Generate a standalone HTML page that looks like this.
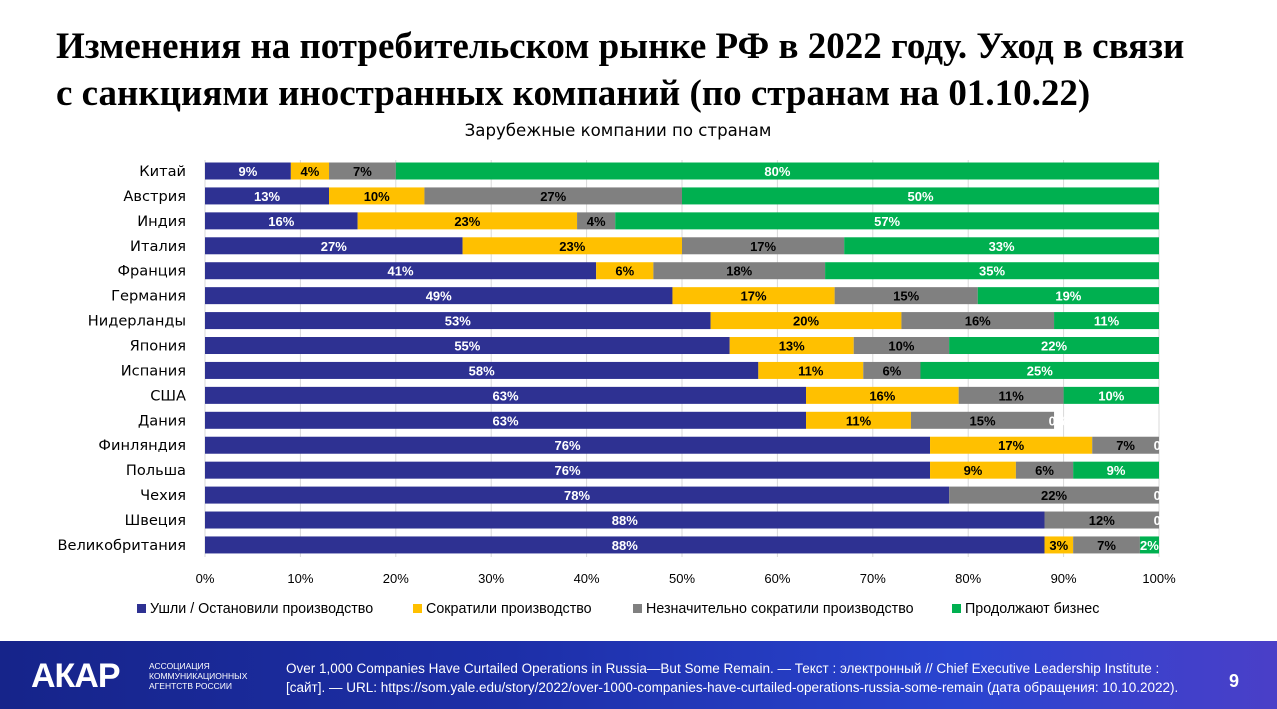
<!DOCTYPE html>
<html><head><meta charset="utf-8"><style>
body{margin:0;width:1277px;height:709px;overflow:hidden;background:#fff;font-family:"Liberation Sans","Noto Sans CJK SC",sans-serif;position:relative}
.t{position:absolute;left:56px;font-family:"Liberation Serif","Noto Serif CJK SC",serif;font-weight:bold;font-size:37px;color:#000;white-space:nowrap}
#foot{position:absolute;left:0;top:641px;width:1277px;height:68px;background:linear-gradient(90deg,#16248a 0%,#1d2fa8 40%,#2a44d0 75%,#4a3fc8 100%)}
</style></head><body>
<div class="t" style="top:25px">Изменения на потребительском рынке РФ в 2022 году. Уход в связи</div>
<div class="t" style="top:72px">с санкциями иностранных компаний (по странам на 01.10.22)</div>
<svg id="ch" width="1277" height="640" style="position:absolute;left:0;top:0"></svg>
<div id="foot">
<div style="position:absolute;left:31px;top:16px;color:#fff;font-weight:bold;font-size:34px;letter-spacing:-1px">АКАР</div>
<div style="position:absolute;left:149px;top:20px;color:#fff;font-size:8.5px;line-height:10px">АССОЦИАЦИЯ<br>КОММУНИКАЦИОННЫХ<br>АГЕНТСТВ РОССИИ</div>
<div style="position:absolute;left:286px;top:18px;color:#fff;font-size:13.5px;line-height:19px;white-space:nowrap">Over 1,000 Companies Have Curtailed Operations in Russia—But Some Remain. — Текст : электронный // Chief Executive Leadership Institute :<br>[сайт]. — URL: https://som.yale.edu/story/2022/over-1000-companies-have-curtailed-operations-russia-some-remain (дата обращения: 10.10.2022).</div>
<div style="position:absolute;left:1229px;top:30px;color:#fff;font-weight:bold;font-size:18px">9</div>
</div>
<script>
const countries=["Китай","Австрия","Индия","Италия","Франция","Германия","Нидерланды","Япония","Испания","США","Дания","Финляндия","Польша","Чехия","Швеция","Великобритания"];
const stopped=[9,13,16,27,41,49,53,55,58,63,63,76,76,78,88,88];
const reduced=[4,10,23,23,6,17,20,13,11,16,11,17,9,0,0,3];
const slightly=[7,27,4,17,18,15,16,10,6,11,15,7,6,22,12,7];
const continuing=[80,50,57,33,35,19,11,22,25,10,0,0,9,0,0,2];
const seriesNames=["Ушли / Остановили производство","Сократили производство","Незначительно сократили производство","Продолжают бизнес"];
const ticks=[0,10,20,30,40,50,60,70,80,90,100];
const colors=["#2e3192","#ffc000","#808080","#00b050"];
const labelCol=["#fff","#000","#000","#fff"];
const series=[stopped,reduced,slightly,continuing];
const svg=document.getElementById('ch');const NS="http://www.w3.org/2000/svg";
const x0=205,x1=1159,yTop=171,step=24.93,bh=17;
const X=v=>x0+(x1-x0)*v/100, Y=i=>yTop+i*step;
function el(t,a,txt){const e=document.createElementNS(NS,t);for(const k in a)e.setAttribute(k,a[k]);if(txt!==undefined)e.textContent=txt;svg.appendChild(e);return e;}
const cp=el('clipPath',{id:'cp'});const cr=document.createElementNS(NS,'rect');cr.setAttribute('x',0);cr.setAttribute('y',0);cr.setAttribute('width',1163);cr.setAttribute('height',640);cp.appendChild(cr);
let s=el('text',{x:618,y:136,'text-anchor':'middle','font-size':16.6,fill:'#000','font-family':'DejaVu Sans, sans-serif'},'Зарубежные компании по странам');


ticks.forEach(t=>{let g=el('line',{x1:X(t),x2:X(t),y1:160,y2:557,stroke:'#d9d9d9'});


let l=el('text',{x:X(t),y:583,'text-anchor':'middle','font-size':13,fill:'#000'},t+'%');

});
countries.forEach((c,i)=>{const y=Y(i);
let l=el('text',{x:186,y:y+5,'text-anchor':'end','font-size':14.6,fill:'#000','font-family':'DejaVu Sans, sans-serif'},c);


let acc=0;
series.forEach((sr,k)=>{const v=sr[i];
if(v>0){let r=el('rect',{x:X(acc),y:y-bh/2,width:X(acc+v)-X(acc),height:bh,fill:colors[k]});

}
if(v>0||k==3){
let tx=el('text',{x:v>0?X(acc+v/2):X(acc)+4,y:y+5,'text-anchor':'middle','font-size':13,'font-weight':'bold',fill:labelCol[k],'clip-path':'url(#cp)'},v+'%');

}
acc+=v;});});
let lx=[137,413,633,952];
seriesNames.forEach((n,k)=>{let r=el('rect',{x:lx[k],y:604,width:9,height:9,fill:colors[k]});


let t=el('text',{x:lx[k]+13,y:613,'font-size':14.3,fill:'#000'},n);

});
</script>
</body></html>
